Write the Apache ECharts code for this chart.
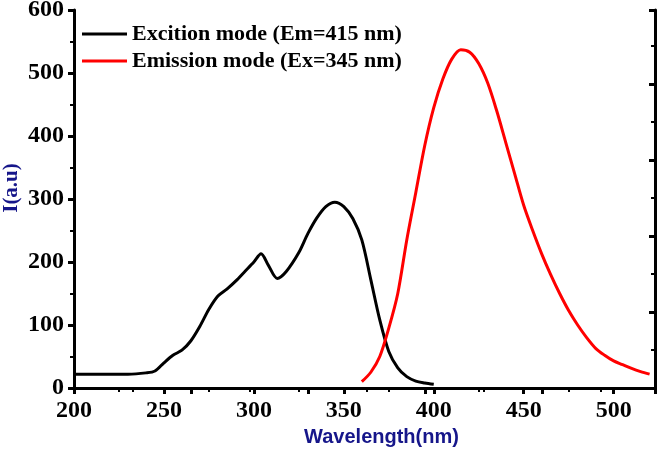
<!DOCTYPE html>
<html>
<head>
<meta charset="utf-8">
<script src="https://cdn.jsdelivr.net/npm/echarts@6/dist/echarts.min.js"></script>
<style>
  html, body { margin: 0; padding: 0; background: #fff; }
  #chart { width: 662px; height: 450px; }
</style>
</head>
<body>
<div id="chart"></div>
<script>
// excitation spectrum (Em = 415 nm)
const excWave = [200, 210, 220, 230, 240, 245, 250, 255, 260, 265, 270, 275, 280, 285, 290, 295, 300, 304, 308, 313, 318, 325, 330, 335, 340, 345, 350, 355, 360, 365, 370, 375, 380, 385, 390, 395, 400];
const excInt  = [22, 22, 22, 22, 24, 27, 40, 52, 60, 75, 98, 125, 146, 157, 170, 185, 200, 213, 195, 174, 185, 215, 245, 270, 288, 295, 288, 269, 235, 172, 108, 58, 32, 18, 11, 8, 6];

// emission spectrum (Ex = 345 nm)
const emWave = [360, 365, 370, 375, 380, 385, 390, 395, 400, 405, 410, 415, 420, 425, 430, 435, 440, 445, 450, 455, 460, 465, 470, 475, 480, 485, 490, 495, 500, 505, 510, 515, 520];
const emInt  = [10, 25, 50, 95, 150, 235, 310, 385, 445, 490, 522, 537, 533, 515, 484, 440, 390, 340, 290, 250, 213, 180, 150, 123, 100, 80, 63, 52, 43, 37, 31, 26, 22];

const seriesNames = ['Excition mode (Em=415 nm)', 'Emission mode (Ex=345 nm)'];
const xTicks = [200, 250, 300, 350, 400, 450, 500];

const chart = echarts.init(document.getElementById('chart'));
const serif = '"Liberation Serif", "Times New Roman", serif';
const navy = '#16168a';

const option = {
    backgroundColor: '#fff',
    animation: false,
    grid: { left: 74, right: 7, top: 10, bottom: 62, containLabel: false, outerBoundsMode: 'none' },
    legend: {
        orient: 'vertical',
        left: 77,
        top: 18,
        icon: 'rect',
        itemWidth: 45,
        itemHeight: 3,
        itemGap: 5,
        textStyle: { fontFamily: serif, fontWeight: 'bold', fontSize: 22, color: '#000', lineHeight: 21 },
        data: seriesNames
    },
    xAxis: [{
        type: 'value',
        min: 200,
        max: 523,
        interval: 50,
        name: 'Wavelength(nm)',
        nameLocation: 'middle',
        nameGap: 39,
        nameMoveOverlap: false,
        nameTextStyle: { fontFamily: '"Liberation Sans", Arial, sans-serif', fontWeight: 'bold', fontSize: 20, color: navy, padding: [0, 0, 0, 34] },
        axisLine: { lineStyle: { color: '#000', width: 3 } },
        axisTick: { inside: false, length: 6, lineStyle: { color: '#000', width: 3 } },
        minorTick: { show: true, splitNumber: 2, length: 4, lineStyle: { color: '#000', width: 2 } },
        axisLabel: {
            margin: 11,
            fontFamily: serif, fontWeight: 'bold', fontSize: 24, color: '#000',
            formatter: v => xTicks.indexOf(v) >= 0 ? String(v) : ''
        },
        splitLine: { show: false }
    }, {
        type: 'value',
        position: 'top',
        min: 0,
        max: 4.966,
        interval: 1,
        axisLine: { lineStyle: { color: '#000', width: 3 } },
        axisTick: { inside: true, length: 6, lineStyle: { color: '#000', width: 3 } },
        minorTick: { show: true, splitNumber: 2, length: 4, lineStyle: { color: '#000', width: 2 } },
        axisLabel: { show: false },
        splitLine: { show: false }
    }],
    yAxis: [{
        type: 'value',
        min: 0,
        max: 600,
        interval: 100,
        name: 'I(a.u)',
        nameLocation: 'middle',
        nameGap: 52,
        nameMoveOverlap: false,
        nameTextStyle: { fontFamily: serif, fontWeight: 'bold', fontSize: 21, color: navy, padding: [0, 0, 0, 22] },
        axisLine: { show: true, lineStyle: { color: '#000', width: 3 } },
        axisTick: { show: true, inside: false, length: 6, lineStyle: { color: '#000', width: 3 } },
        minorTick: { show: true, splitNumber: 2, length: 4, lineStyle: { color: '#000', width: 2 } },
        axisLabel: { margin: 10, fontFamily: serif, fontWeight: 'bold', fontSize: 24, color: '#000' },
        splitLine: { show: false }
    }, {
        type: 'value',
        position: 'right',
        min: 0,
        max: 9.947,
        interval: 2,
        axisLine: { show: true, lineStyle: { color: '#000', width: 3 } },
        axisTick: { show: true, inside: true, length: 6, lineStyle: { color: '#000', width: 3 } },
        minorTick: { show: true, splitNumber: 2, length: 4, lineStyle: { color: '#000', width: 2 } },
        axisLabel: { show: false },
        splitLine: { show: false }
    }],
    series: [{
        name: seriesNames[0],
        type: 'line',
        data: excWave.map((w, i) => [w, excInt[i]]),
        smooth: 0.3,
        symbol: 'none',
        color: '#000',
        lineStyle: { color: '#000', width: 3 }
    }, {
        name: seriesNames[1],
        type: 'line',
        data: emWave.map((w, i) => [w, emInt[i]]),
        smooth: 0.3,
        symbol: 'none',
        color: '#ff0000',
        lineStyle: { color: '#ff0000', width: 3 }
    }]
};
chart.setOption(option);
</script>
</body>
</html>
